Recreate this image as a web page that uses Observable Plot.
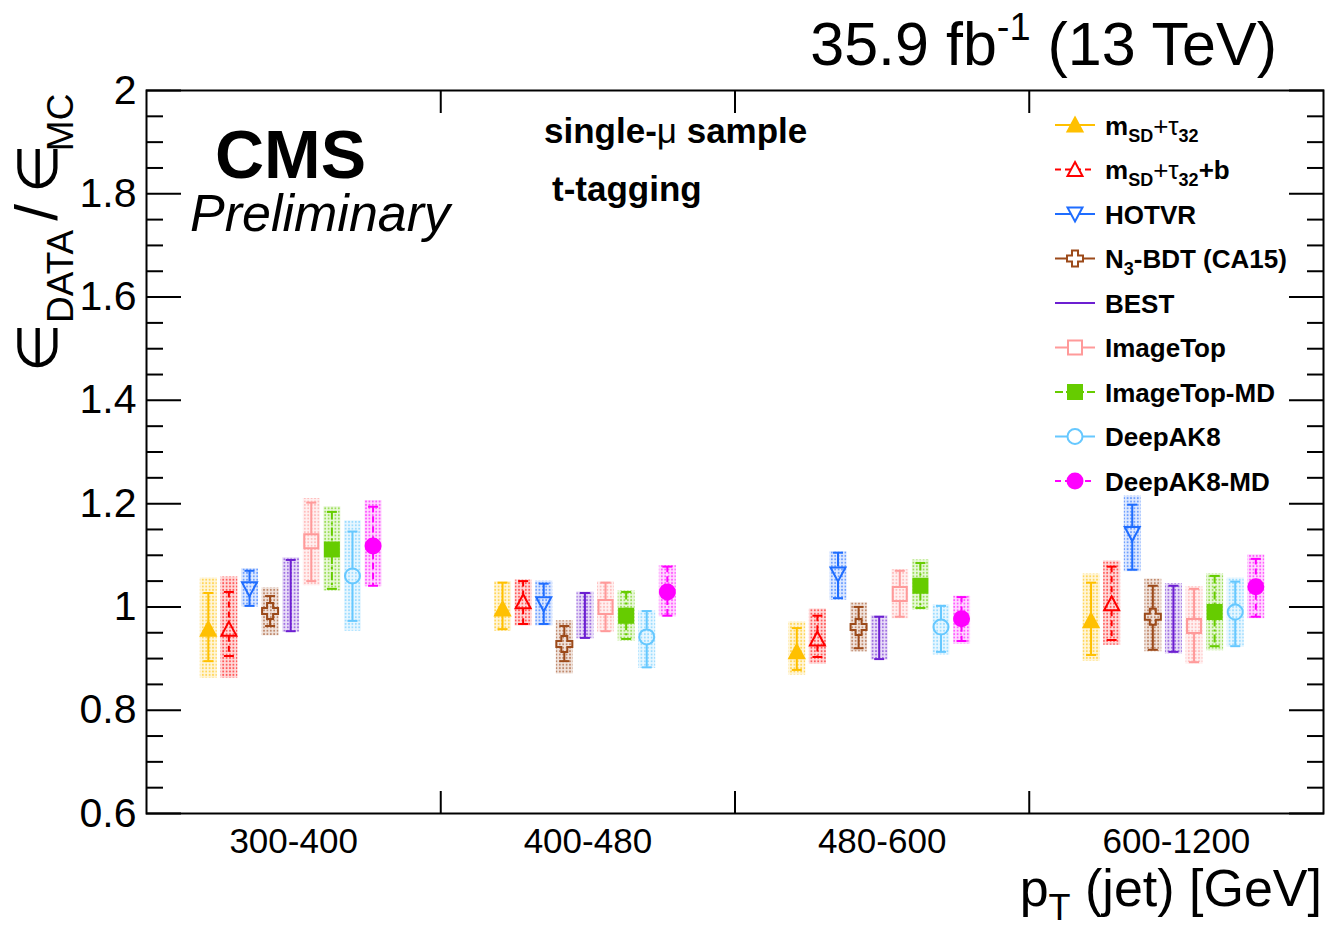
<!DOCTYPE html>
<html><head><meta charset="utf-8">
<script src="https://cdn.jsdelivr.net/npm/d3@7"></script>
<script src="https://cdn.jsdelivr.net/npm/@observablehq/plot@0.6"></script>
<style>
html,body{margin:0;padding:0;background:#fff;}
#chart svg{display:block;}
</style></head><body><div id="chart"></div>
<script>
// ---------------- data ----------------
const bins = ["300-400", "400-480", "480-600", "600-1200"];
const taggers = ["mSD+tau32", "mSD+tau32+b", "HOTVR", "N3-BDT (CA15)", "BEST", "ImageTop", "ImageTop-MD", "DeepAK8", "DeepAK8-MD"];
const central = [
  [0.957, 0.996, 0.913, 0.973],
  [0.957, 1.010, 0.938, 1.006],
  [1.035, 1.006, 1.064, 1.142],
  [0.992, 0.928, 0.961, 0.981],
  [1.022, 0.984, 0.940, 0.977],
  [1.127, 1.000, 1.025, 0.963],
  [1.111, 0.983, 1.041, 0.990],
  [1.060, 0.942, 0.961, 0.990],
  [1.118, 1.029, 0.977, 1.039]
];
const statLow = [
  [0.895, 0.957, 0.878, 0.907],
  [0.905, 0.967, 0.903, 0.936],
  [1.002, 0.967, 1.017, 1.072],
  [0.963, 0.895, 0.920, 0.917],
  [0.953, 0.940, 0.899, 0.913],
  [1.050, 0.953, 0.981, 0.893],
  [1.035, 0.938, 0.998, 0.924],
  [0.973, 0.883, 0.913, 0.924],
  [1.041, 0.983, 0.934, 0.981]
];
const statHigh = [
  [1.027, 1.047, 0.959, 1.047],
  [1.029, 1.050, 0.983, 1.078],
  [1.070, 1.045, 1.105, 1.198],
  [1.021, 0.963, 1.000, 1.041],
  [1.091, 1.027, 0.981, 1.041],
  [1.202, 1.047, 1.070, 1.035],
  [1.184, 1.029, 1.085, 1.060],
  [1.146, 0.992, 1.002, 1.049],
  [1.194, 1.078, 1.019, 1.093]
];
const totLow = [
  [0.862, 0.953, 0.868, 0.895],
  [0.862, 0.963, 0.889, 0.926],
  [1.000, 0.963, 1.013, 1.068],
  [0.944, 0.870, 0.913, 0.913],
  [0.951, 0.938, 0.897, 0.909],
  [1.041, 0.951, 0.977, 0.889],
  [1.031, 0.934, 0.994, 0.915],
  [0.953, 0.881, 0.907, 0.922],
  [1.039, 0.981, 0.928, 0.977]
];
const totHigh = [
  [1.056, 1.049, 0.971, 1.064],
  [1.058, 1.052, 0.996, 1.089],
  [1.074, 1.050, 1.107, 1.215],
  [1.037, 0.973, 1.008, 1.054],
  [1.095, 1.029, 0.983, 1.045],
  [1.210, 1.049, 1.072, 1.039],
  [1.194, 1.031, 1.091, 1.064],
  [1.167, 0.992, 1.004, 1.056],
  [1.206, 1.080, 1.021, 1.101]
];
const yMajorTicks = [0.6, 0.8, 1, 1.2, 1.4, 1.6, 1.8, 2];
const yTickLabels = ["0.6", "0.8", "1", "1.2", "1.4", "1.6", "1.8", "2"];

// ---------------- styles ----------------
const colors = ["#ffc000", "#ff0000", "#1f6dff", "#9c4a1a", "#6c1fd1", "#ff9a9a", "#66cc00", "#66c8ff", "#ff00ff"];
const shapes = ["triUp", "triUp", "triDown", "cross", "none", "square", "square", "circle", "circle"];
const filled = [true, false, false, false, false, false, true, false, true];
const dashes = [null, "6,4", null, null, null, null, "8,3,2,3", null, "6,4"];
const FONT = "'Liberation Sans', Arial, Helvetica, sans-serif";

const symbols = {
  triUp: {draw(c) { c.moveTo(0, -7.5); c.lineTo(7.5, 6.5); c.lineTo(-7.5, 6.5); c.closePath(); }},
  triDown: {draw(c) { c.moveTo(0, 7.5); c.lineTo(7.5, -6.5); c.lineTo(-7.5, -6.5); c.closePath(); }},
  cross: {draw(c) {
    const s = 8, a = 3;
    c.moveTo(-a, -s); c.lineTo(a, -s); c.lineTo(a, -a); c.lineTo(s, -a); c.lineTo(s, a); c.lineTo(a, a);
    c.lineTo(a, s); c.lineTo(-a, s); c.lineTo(-a, a); c.lineTo(-s, a); c.lineTo(-s, -a); c.lineTo(-a, -a); c.closePath();
  }},
  square: {draw(c) { c.rect(-7, -7, 14, 14); }},
  circle: {draw(c) { c.moveTo(7.5, 0); c.arc(0, 0, 7.5, 0, 2 * Math.PI); c.closePath(); }},
  none: {draw(c) {}}
};
const gaps = {triUp: 7, triDown: 7, cross: 8, square: 7, circle: 7.5, none: 0};
const capSym = {draw(c) { c.moveTo(-5, 0); c.lineTo(5, 0); }};

// ---------------- table ----------------
const rows = [];
taggers.forEach((t, j) => bins.forEach((b, i) => rows.push({
  j, i, x: i + 0.21 + j * 0.07,
  c: central[j][i], sLo: statLow[j][i], sHi: statHigh[j][i], tLo: totLow[j][i], tHi: totHigh[j][i]
})));

const binCenters = bins.map((_, i) => i + 0.5);
const binEdges = bins.slice(1).map((_, i) => i + 1);
const yMinor = d3.range(0.6, 2.0001, 0.05).map(v => +v.toFixed(2)).filter(v => !yMajorTicks.some(m => Math.abs(m - v) < 1e-6));

const marks = [];
taggers.forEach((t, j) => {
  const d = rows.filter(r => r.j === j);
  marks.push(Plot.ruleX(d, {x: "x", y1: "tLo", y2: "tHi", stroke: `url(#pat${j})`, strokeWidth: 17}));
});
taggers.forEach((t, j) => {
  const d = rows.filter(r => r.j === j);
  const col = colors[j], shp = shapes[j], g = gaps[shp];
  const ls = {stroke: col, strokeWidth: 2, strokeDasharray: dashes[j] || undefined};
  if (shp === "none") {
    marks.push(Plot.ruleX(d, {x: "x", y1: "sHi", y2: "sLo", ...ls}));
  } else {
    marks.push(Plot.ruleX(d, {x: "x", y1: "sHi", y2: "c", insetBottom: g, ...ls}));
    marks.push(Plot.ruleX(d, {x: "x", y1: "c", y2: "sLo", insetTop: g, ...ls}));
  }
  marks.push(Plot.dot(d, {x: "x", y: "sHi", symbol: capSym, fill: "none", stroke: col, strokeWidth: 2}));
  marks.push(Plot.dot(d, {x: "x", y: "sLo", symbol: capSym, fill: "none", stroke: col, strokeWidth: 2}));
  if (shp !== "none") {
    marks.push(Plot.dot(d, {x: "x", y: "c", symbol: symbols[shp], fill: filled[j] ? col : "none", stroke: col, strokeWidth: 2}));
  }
});
const tk = {stroke: "black", strokeWidth: 2, tickFormat: () => "", label: null};
marks.push(
  Plot.axisY(yMajorTicks, {anchor: "left", tickSize: -35, ...tk}),
  Plot.axisY(yMinor, {anchor: "left", tickSize: -17, ...tk}),
  Plot.axisY(yMajorTicks, {anchor: "right", tickSize: -35, ...tk}),
  Plot.axisY(yMinor, {anchor: "right", tickSize: -17, ...tk}),
  Plot.axisX(binEdges, {anchor: "bottom", tickSize: -22, ...tk}),
  Plot.axisX(binEdges, {anchor: "top", tickSize: -22, ...tk}),
  Plot.axisY(yMajorTicks, {anchor: "left", tickSize: 0, tickPadding: 10, fontSize: 41, fill: "black", label: null,
    tickFormat: d => yTickLabels[yMajorTicks.indexOf(d)]}),
  Plot.axisX(binCenters, {anchor: "bottom", tickSize: 0, tickPadding: 15, fontSize: 35, fill: "black", label: null,
    tickFormat: d => bins[binCenters.indexOf(d)]}),
  Plot.frame({stroke: "black", strokeWidth: 2})
);

const chart = Plot.plot({
  width: 1328, height: 927,
  marginLeft: 146, marginRight: 5, marginTop: 90, marginBottom: 114,
  x: {domain: [0, 4]},
  y: {domain: [0.6, 2]},
  style: {fontFamily: FONT, background: "white", color: "black"},
  marks
});
document.getElementById("chart").appendChild(chart);

// ---------------- patterns, texts, legend ----------------
const svg = d3.select(chart);
const defs = svg.insert("defs", ":first-child");
colors.forEach((col, j) => {
  const p = defs.append("pattern").attr("id", `pat${j}`).attr("patternUnits", "userSpaceOnUse")
    .attr("width", 3.4).attr("height", 3.4);
  p.append("rect").attr("width", 3.4).attr("height", 3.4).attr("fill", col).attr("fill-opacity", 0.14);
  p.append("circle").attr("cx", 1.7).attr("cy", 1.7).attr("r", 1.0).attr("fill", col).attr("fill-opacity", 0.6);
});

const txt = svg.append("g").attr("font-family", FONT).attr("fill", "black").attr("text-anchor", "start");

const lumi = txt.append("text").attr("x", 1277).attr("y", 65).attr("text-anchor", "end").attr("font-size", 61);
lumi.append("tspan").text("35.9 fb");
lumi.append("tspan").attr("font-size", 38).attr("dy", -25).text("-1");
lumi.append("tspan").attr("dy", 25).text(" (13 TeV)");

txt.append("text").attr("x", 215).attr("y", 178).attr("font-size", 68).attr("font-weight", "bold").text("CMS");
txt.append("text").attr("x", 190).attr("y", 231).attr("font-size", 52).attr("font-style", "italic").text("Preliminary");
const smp = txt.append("text").attr("x", 544).attr("y", 143).attr("font-size", 35).attr("font-weight", "bold");
smp.append("tspan").text("single-");
smp.append("tspan").attr("font-weight", "normal").text("μ");
smp.append("tspan").text(" sample");
txt.append("text").attr("x", 552).attr("y", 201).attr("font-size", 35).attr("font-weight", "bold").text("t-tagging");

const xt = txt.append("text").attr("x", 1322).attr("y", 906).attr("text-anchor", "end").attr("font-size", 52);
xt.append("tspan").text("p");
xt.append("tspan").attr("font-size", 36).attr("dy", 14).text("T");
xt.append("tspan").attr("dy", -14).text(" (jet) [GeV]");

const yt = txt.append("text").attr("transform", "translate(57,372) rotate(-90)").attr("font-size", 60);
yt.append("tspan").attr("font-size", 56).text("∈");
yt.append("tspan").attr("font-size", 37).attr("dy", 16).text("DATA");
yt.append("tspan").attr("dy", -16).attr("dx", 9).text("/");
yt.append("tspan").attr("font-size", 56).attr("dx", 11).text("∈");
yt.append("tspan").attr("font-size", 37).attr("dy", 16).attr("dx", -7).text("MC");

const legendLabels = [
  [["m", 0], ["SD", 1], ["+τ", 0], ["32", 1]],
  [["m", 0], ["SD", 1], ["+τ", 0], ["32", 1], ["+b", 0]],
  [["HOTVR", 0]],
  [["N", 0], ["3", 1], ["-BDT (CA15)", 0]],
  [["BEST", 0]],
  [["ImageTop", 0]],
  [["ImageTop-MD", 0]],
  [["DeepAK8", 0]],
  [["DeepAK8-MD", 0]]
];
const leg = svg.append("g").attr("text-anchor", "start");
taggers.forEach((t, j) => {
  const y = 125 + j * 44.5, col = colors[j];
  leg.append("line").attr("x1", 1055).attr("x2", 1095).attr("y1", y).attr("y2", y)
    .attr("stroke", col).attr("stroke-width", 2).attr("stroke-dasharray", dashes[j]);
  if (shapes[j] !== "none") {
    leg.append("path").attr("transform", `translate(1075,${y})`)
      .attr("d", d3.symbol(symbols[shapes[j]], 100)())
      .attr("fill", filled[j] ? col : "white").attr("stroke", col).attr("stroke-width", 2);
  }
  const tx = leg.append("text").attr("x", 1105).attr("y", y + 9.5).attr("font-family", FONT)
    .attr("font-size", 26).attr("font-weight", "bold").attr("fill", "black").attr("text-anchor", "start");
  let sub = 0;
  legendLabels[j].forEach(([s, isSub]) => {
    const ts = tx.append("tspan").text(s);
    if (isSub && !sub) { ts.attr("font-size", 18).attr("dy", 7); sub = 1; }
    else if (!isSub && sub) { ts.attr("dy", -7); sub = 0; }
    if (s.includes("τ")) ts.attr("font-weight", "normal");
  });
});
</script></body></html>
